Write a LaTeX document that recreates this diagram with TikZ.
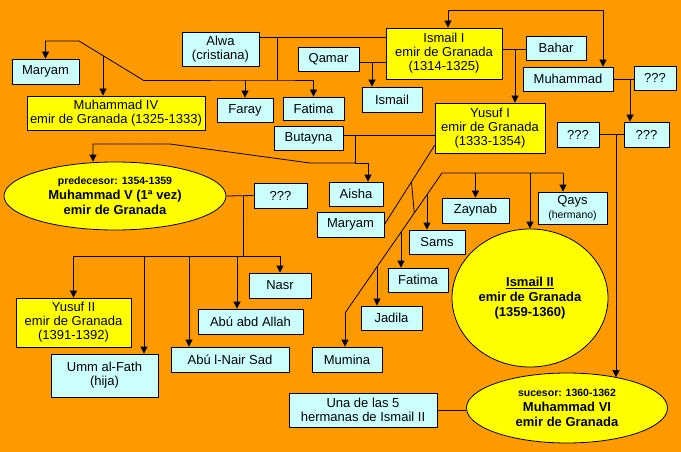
\documentclass[tikz,border=0pt]{standalone}
\usepackage{fontspec}
\setmainfont{Liberation Sans}
\usepackage{tikz}
\usetikzlibrary{arrows.meta,shapes,positioning}
\usepackage{xcolor}
\definecolor{gnorange}{RGB}{255,153,0}
\definecolor{gnyellow}{RGB}{255,255,0}
\definecolor{gnlightcyan}{RGB}{204,255,255}
\tikzstyle{link} = [line width=0.8pt, color=black]
\tikzstyle{arrow} = [link, ->, >={Triangle[length=7pt,width=7pt]}]
\tikzstyle{person} = [rectangle, draw=black, line width=0.8pt, fill=gnlightcyan, align=center, inner sep=1pt, minimum height=25pt, font=\fontsize{13}{14}\selectfont]
\tikzstyle{emir} = [person, fill=gnyellow]
\tikzstyle{emirround} = [ellipse, draw=black, line width=0.8pt, fill=gnyellow, align=center, inner sep=0pt, font=\bfseries\fontsize{13}{15}\selectfont]

\begin{document}
\begin{tikzpicture}[x=1pt, y=-1pt]
\useasboundingbox (0,0) rectangle (681,452);
\fill[gnorange] (0,0) rectangle (681,452);
% Ismail I and his family
\node (ismail1) [emir, minimum width=116pt, minimum height=51pt] at (444,53.5) {Ismail I\\emir de Granada\\(1314-1325)};
\node (alwa) [person, minimum width=77pt, minimum height=34pt] at (220.5,49) {Alwa\\(cristiana)};
\node (qamar) [person, minimum width=61pt, minimum height=24pt] at (328.5,59) {Qamar};
\node (bahar) [person, minimum width=60pt, minimum height=24pt] at (556,48) {Bahar};
\node (muhammad) [person, minimum width=90pt, minimum height=24pt] at (568,79) {Muhammad};
\node (unknown1) [person, minimum width=42pt, minimum height=24pt] at (655,78) {???};
\node (unknown2) [person, minimum width=42pt] at (578,134.5) {???};
\node (unknown3) [person, minimum width=45pt] at (646.5,134.5) {???};
\node (maryam1) [person, minimum width=67pt] at (45.5,71.5) {Maryam};
\node (muhammad4) [emir, minimum width=178pt, minimum height=34pt] at (116,113) {Muhammad IV\\emir de Granada (1325-1333)};
\node (faray) [person, minimum width=56pt, minimum height=24pt] at (245,110) {Faray};
\node (fatima1) [person, minimum width=61pt, minimum height=23pt] at (313.5,108.5) {Fatima};
\node (ismail) [person, minimum width=60pt] at (392,99.5) {Ismail};
\node (butayna) [person, minimum width=69pt, minimum height=24pt] at (308.5,138) {Butayna};
% Yusuf I and his family
\node (yusuf1) [emir, minimum width=110pt, minimum height=50pt] at (490,128) {Yusuf I\\emir de Granada\\(1333-1354)};
\node (muhammad5) [emirround, minimum width=222pt, minimum height=68pt] at (115,196) {{\fontsize{10.5}{12}\selectfont predecesor: 1354-1359}\\Muhammad V (1ª vez)\\emir de Granada};
\node (unknown4) [person, minimum width=53pt] at (280.5,195.5) {???};
\node (aisha) [person, minimum width=54pt, minimum height=24pt] at (356,194) {Aisha};
\node (maryam2) [person, minimum width=67pt] at (350.5,224.5) {Maryam};
\node (zaynab) [person, minimum width=67pt] at (475.5,210.5) {Zaynab};
\node (qays) [person, minimum width=69pt, minimum height=32pt] at (572.5,208) {Qays\\{\fontsize{10.5}{11}\selectfont (hermano)}};
\node (sams) [person, minimum width=56pt, minimum height=24pt] at (437,242) {Sams};
\node (fatima2) [person, minimum width=60pt, minimum height=24pt] at (418,280) {Fatima};
\node (jadila) [person, minimum width=61pt, minimum height=24pt] at (391.5,318) {Jadila};
\node (mumina) [person, minimum width=70pt] at (347,359.5) {Mumina};
\node (ismail2) [emirround, minimum width=156pt, minimum height=138pt] at (530,298) {\underline{Ismail II}\\emir de Granada\\(1359-1360)};
\node (muhammad6) [emirround, minimum width=201pt, minimum height=70pt] at (567,408) {{\fontsize{10.5}{12}\selectfont sucesor: 1360-1362}\\Muhammad VI\\emir de Granada};
\node (sister) [person, minimum width=148pt, minimum height=34pt] at (363,410) {Una de las 5\\hermanas de Ismail II};
% Muhammad V's children
\node (nasr) [person, minimum width=62pt] at (280,285.5) {Nasr};
\node (abuabd) [person, minimum width=105pt] at (250.5,321.5) {Abú abd Allah};
\node (abunair) [person, minimum width=118pt] at (230,359.5) {Abú l-Nair Sad};
\node (yusuf2) [emir, minimum width=115pt, minimum height=49pt] at (73.5,322.5) {Yusuf II\\emir de Granada\\(1391-1392)};
\node (umm) [person, minimum width=107pt, minimum height=43pt] at (104.5,375.5) {Umm al-Fath\\(hija)};

% junctions
\coordinate (j1) at (277,37);
\coordinate (j2) at (277,80);
\coordinate (j3) at (143,80);
\coordinate (j4) at (79,41);
\coordinate (j5) at (103,55.6);
\coordinate (j6) at (372,62);
\coordinate (j7) at (515,49);
\coordinate (j8) at (630,79);
\coordinate (j9) at (616,134.5);
\coordinate (j10) at (355,135);
\coordinate (j11) at (355,163);
\coordinate (j12) at (93,144);
\coordinate (j13) at (243,196);
\coordinate (j14) at (243,256);
\coordinate (c1) at (345,313);
\coordinate (c2) at (442,173);
\coordinate (c3) at (563,173);

\draw[arrow, <->] ([xshift=4pt]ismail1.north) -- ++(0,-17) -| ([xshift=35pt]muhammad.north);
\draw[link] (alwa.east |- j1) -- (ismail1.west |- j1);
\draw[link] (j1) -- (j2);
\draw[arrow] (j3) -- (j4) -| (maryam1.north);
\draw[arrow] (j3) -- (j2) -| (fatima1.north);
\draw[arrow] (faray.north |- j3) -- (faray.north);
\draw[arrow] (j5) -- (j5 |- muhammad4.north);
\draw[link] (qamar.east |- j6) -- (ismail1.west |- j6);
\draw[arrow] (j6) -- (j6 |- ismail.north);
\draw[link] (ismail1.east |- j7) -- (bahar.west |- j7);
\draw[arrow] (j7) -- (j7 |- yusuf1.north);
\draw[link] (muhammad.east |- j8) -- (unknown1.west |- j8);
\draw[arrow] (j8) -- (j8 |- unknown3.north);
\draw[link] (unknown2.east |- j9) -- (unknown3.west |- j9);
\draw[arrow] (j9) -- (j9 |- muhammad6.32);

\draw[link] (butayna.east |- j10) -- (yusuf1.west |- j10);
\draw[arrow] (j10) -- (j11) -- ++(13,0) coordinate (j15) -- (j15 |- aisha.north);
\draw[arrow] (j11) -- (310,163) -- (170,144) -- (j12) -- (j12 |- muhammad5.north);
\draw[link] ([yshift=8pt]yusuf1.south west) -- coordinate[pos=0.46] (w1) (maryam2.east);
\draw[link] (c3) -- (c2) -- coordinate[pos=0.155] (d1) coordinate[pos=0.286] (w2) coordinate[pos=0.423] (d2) coordinate[pos=0.67] (d3) (c1);
\draw[link] (w1) -- (w2);
\draw[arrow] (d1) -- (d1 |- sams.north);
\draw[arrow] (d2) -- (d2 |- fatima2.north);
\draw[arrow] (d3) -- (d3 |- jadila.north);
\draw[arrow] (c1) -- (c1 |- mumina.north);
\draw[arrow] (zaynab.north |- c2) -- (zaynab.north);
\draw[arrow] (ismail2.north |- c2) -- (ismail2.north);
\draw[arrow] (c3) -- (c3 |- qays.north);

\draw[link] (muhammad5.east) -- (unknown4.west);
\draw[link] (j13) -- (j14);
\draw[link] (yusuf2.north |- j14) -- (nasr.north |- j14);
\foreach \x/\n in {73.5/yusuf2,144/umm,189/abunair,237/abuabd,280/nasr}
  \draw[arrow] (\x,256) -- (\x,256 |- \n.north);
\draw[link] (sister.east) -- (sister.east -| muhammad6.west);
\end{tikzpicture}
\end{document}
